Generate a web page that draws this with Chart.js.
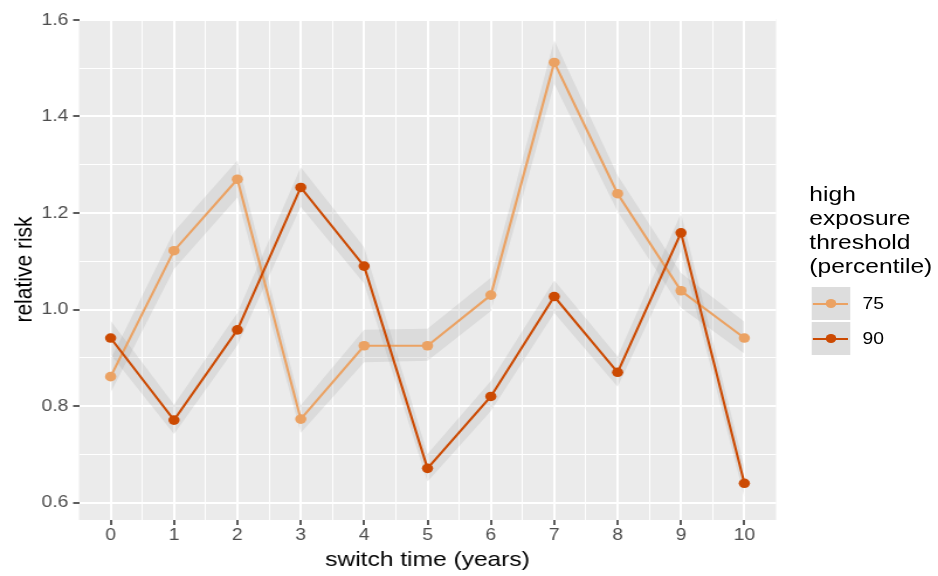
<!DOCTYPE html>
<html>
<head>
<meta charset="utf-8">
<script src="https://cdn.jsdelivr.net/npm/chart.js@4.4.1/dist/chart.umd.min.js"></script>
<style>
  html, body { margin: 0; padding: 0; background: #fff; overflow: hidden; }
  #wrap { position: absolute; left: 0; top: 0; width: 802px; height: 576px;
          transform: scaleX(1.1696); transform-origin: 0 0; }
  #legend { position: absolute; left: 692px; top: 182px; font-family: "Liberation Sans", Arial, sans-serif; color: #000; }
  #legend .title { font-size: 21px; line-height: 24px; }
  #legend .item { position: relative; height: 33px; margin-top: 2px; }
  #legend .key { position: absolute; left: 2px; top: 0; width: 32.5px; height: 33px; background: #dddddd; }
  #legend .key .ln { position: absolute; left: 1px; right: 2px; top: 15.5px; height: 2px; }
  #legend .key .pt { position: absolute; left: 11.6px; top: 12px; width: 9.4px; height: 9.4px; border-radius: 50%; }
  #legend .lab { position: absolute; left: 45.5px; top: 0; line-height: 33px; font-size: 16.5px; }
</style>
</head>
<body>
<div id="wrap">
  <canvas id="myChart" width="802" height="576"></canvas>
  <div id="legend"></div>
</div>
<script>
const years = [0, 1, 2, 3, 4, 5, 6, 7, 8, 9, 10];
const xTicks = [0, 1, 2, 3, 4, 5, 6, 7, 8, 9, 10];
const yTicks = [0.6, 0.8, 1.0, 1.2, 1.4, 1.6];

const seriesNames = ['75', '90'];
const seriesColors = ['#eba263', '#cc4a02'];

// relative risk + band, threshold 75th percentile
const rr75 = [0.861, 1.122, 1.270, 0.773, 0.925, 0.925, 1.030, 1.512, 1.240, 1.039, 0.941];
const lo75 = [0.828, 1.084, 1.232, 0.745, 0.891, 0.894, 0.997, 1.468, 1.203, 1.004, 0.909];
const hi75 = [0.897, 1.161, 1.309, 0.802, 0.958, 0.960, 1.066, 1.558, 1.278, 1.076, 0.975];

// threshold 90th percentile
const rr90 = [0.941, 0.771, 0.958, 1.253, 1.090, 0.671, 0.820, 1.027, 0.870, 1.159, 0.640];
const lo90 = [0.907, 0.742, 0.926, 1.213, 1.054, 0.644, 0.790, 0.993, 0.840, 1.121, 0.611];
const hi90 = [0.977, 0.803, 0.993, 1.295, 1.129, 0.701, 0.852, 1.060, 0.903, 1.199, 0.673];

const legendTitle = ['high', 'exposure', 'threshold', '(percentile)'];

Chart.defaults.font.family = '"Liberation Sans", Arial, sans-serif';

function pts(ys) {
  return years.map((x, i) => ({x: x, y: ys[i]}));
}

// major + minor positions (minor lines half way between majors)
function withMinors(major) {
  const out = [];
  for (let i = 0; i < major.length; i++) {
    out.push({value: major[i], minor: false});
    if (i < major.length - 1) out.push({value: (major[i] + major[i + 1]) / 2, minor: true});
  }
  return out;
}

const ribbon = 'rgba(153,153,153,0.2)';
const none = 'rgba(0,0,0,0)';

function band(ys, fill) {
  return {
    data: pts(ys),
    fill: fill,
    backgroundColor: ribbon,
    borderColor: none,
    borderWidth: 0,
    pointRadius: 0,
    order: 3
  };
}

function line(ys, k, order) {
  return {
    label: seriesNames[k],
    data: pts(ys),
    borderColor: seriesColors[k],
    backgroundColor: seriesColors[k],
    pointBackgroundColor: seriesColors[k],
    pointBorderWidth: 0,
    pointRadius: 4.8,
    borderWidth: 2.1,
    tension: 0,
    fill: false,
    order: order
  };
}

const panelBg = {
  id: 'panelBg',
  beforeDraw(chart) {
    const a = chart.chartArea;
    const ctx = chart.ctx;
    ctx.save();
    ctx.fillStyle = '#ebebeb';
    ctx.fillRect(a.left, a.top, a.right - a.left, a.bottom - a.top);
    ctx.restore();
  }
};

const gridOpts = {
  color: '#ffffff',
  lineWidth: (c) => (c.tick && c.tick.minor ? 1 : 2),
  drawTicks: true,
  tickLength: 5,
  tickWidth: 1.6,
  tickColor: (c) => (c.tick && c.tick.minor ? none : '#333333')
};

const ctx = document.getElementById('myChart').getContext('2d');
new Chart(ctx, {
  type: 'line',
  data: {
    datasets: [
      band(hi75, '+1'), band(lo75, false),
      band(hi90, '+1'), band(lo90, false),
      line(rr75, 0, 1), line(rr90, 1, 0)
    ]
  },
  plugins: [panelBg],
  options: {
    responsive: false,
    animation: false,
    layout: { padding: { top: 19, right: 138.5, left: 0, bottom: 0 } },
    plugins: { legend: { display: false }, tooltip: { enabled: false } },
    scales: {
      x: {
        type: 'linear',
        min: -0.5,
        max: 10.5,
        border: { display: false },
        grid: gridOpts,
        afterBuildTicks: (s) => { s.ticks = withMinors(xTicks); },
        afterFit: (s) => { s.height = 56; },
        ticks: {
          autoSkip: false, maxRotation: 0, padding: 1,
          color: '#4d4d4d', font: { size: 16.5 },
          callback: (v) => (xTicks.includes(v) ? String(v) : '')
        },
        title: {
          display: true, text: 'switch time (years)', color: '#000',
          font: { size: 21 }, padding: { top: 0, bottom: 3 }
        }
      },
      y: {
        type: 'linear',
        min: 0.564,
        max: 1.602,
        border: { display: false },
        grid: gridOpts,
        afterBuildTicks: (s) => { s.ticks = withMinors(yTicks); },
        afterFit: (s) => { s.width = 67.5; },
        ticks: {
          autoSkip: false, padding: 4,
          color: '#4d4d4d', font: { size: 16.5 },
          callback: (v) => (yTicks.some((t) => Math.abs(t - v) < 1e-9) ? v.toFixed(1) : '')
        },
        title: {
          display: true, text: 'relative risk', color: '#000',
          font: { size: 21 }, padding: { top: 9, bottom: 0 }
        }
      }
    }
  }
});

// ggplot style legend
const leg = document.getElementById('legend');
let html = '<div class="title">' + legendTitle.join('<br>') + '</div><div style="height:7px"></div>';
seriesNames.forEach((name, k) => {
  html += '<div class="item"><div class="key">' +
    '<div class="ln" style="background:' + seriesColors[k] + '"></div>' +
    '<div class="pt" style="background:' + seriesColors[k] + '"></div>' +
    '</div><div class="lab">' + name + '</div></div>';
});
leg.innerHTML = html;
</script>
</body>
</html>
